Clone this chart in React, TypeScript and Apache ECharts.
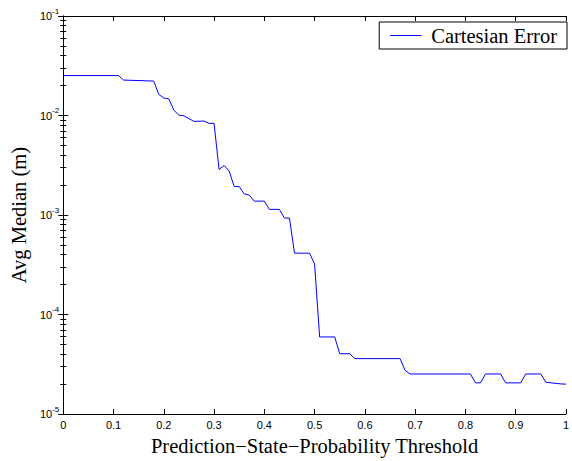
import React, { useEffect, useRef } from "react";
import * as echarts from "echarts";

const seriesName = "Cartesian Error";
const xTitle = "Prediction\u2212State\u2212Probability Threshold";
const yTitle = "Avg Median (m)";

const thresholds = [
  0, 0.11, 0.12, 0.18, 0.19, 0.2, 0.21, 0.22, 0.23, 0.24, 0.26, 0.28, 0.29, 0.3,
  0.31, 0.32, 0.33, 0.34, 0.35, 0.36, 0.37, 0.38, 0.4, 0.41, 0.43, 0.44, 0.45,
  0.46, 0.49, 0.5, 0.51, 0.54, 0.55, 0.57, 0.58, 0.67, 0.68, 0.69, 0.81, 0.82,
  0.83, 0.84, 0.87, 0.88, 0.91, 0.92, 0.95, 0.96, 0.99, 1.0,
];
const avgMedian = [
  0.0252, 0.0252, 0.0227, 0.0222, 0.0163, 0.015, 0.0147, 0.0113, 0.0101, 0.00993,
  0.00873, 0.0088, 0.00834, 0.00834, 0.00287, 0.00315, 0.00277, 0.00194, 0.00193,
  0.00163, 0.00159, 0.00138, 0.00138, 0.00114, 0.00114, 0.000933, 0.000933,
  0.000414, 0.000414, 0.000322, 0.0000596, 0.0000596, 0.0000404, 0.0000404,
  0.0000361, 0.0000361, 0.0000275, 0.0000253, 0.0000253, 0.0000206, 0.0000206,
  0.0000253, 0.0000253, 0.0000206, 0.0000206, 0.0000253, 0.0000253, 0.0000209,
  0.0000201, 0.00002,
];
const yMin = 1e-5;
const yMax = 1e-1;

const SANS = "Liberation Sans";
const SERIF = "Liberation Serif";

export default function App() {
  const ref = useRef<HTMLDivElement>(null);
  useEffect(() => {
    if (!ref.current) return;
    const chart = echarts.init(ref.current, null, { renderer: "svg" });
    const tickStyle = { color: "#000", width: 1 };
    const yLabelFormatter = (v: number) => {
      const e = Math.round(Math.log10(v));
      return `{b|10}{e|${e}}`;
    };
    chart.setOption({
      animation: false,
      backgroundColor: "#fff",
      grid: { left: 61, top: 16, width: 512, height: 404, containLabel: false },
      legend: {
        right: 5,
        top: 22,
        padding: [3, 10, 3, 11],
        itemWidth: 31,
        itemHeight: 1,
        icon: "rect",
        borderColor: "#000",
        borderWidth: 1,
        backgroundColor: "#fff",
        borderRadius: 0,
        textStyle: { fontFamily: SERIF, fontSize: 20.5, color: "#000", padding: [0, 0, 0, 5] },
        data: [{ name: seriesName }],
      },
      xAxis: [
        {
          type: "value",
          min: 0,
          max: 1,
          interval: 0.1,
          position: "bottom",
          axisLine: { lineStyle: tickStyle },
          axisTick: { inside: true, length: 5, lineStyle: tickStyle },
          axisLabel: { color: "#000", fontFamily: SANS, fontSize: 11, margin: 5 },
          splitLine: { show: false },
          name: xTitle,
          nameLocation: "middle",
          nameGap: 17,
          nameTextStyle: { fontFamily: SERIF, fontSize: 20.5, color: "#000" },
        },
        {
          type: "value",
          min: 0,
          max: 1,
          interval: 0.1,
          position: "top",
          axisLine: { lineStyle: tickStyle },
          axisTick: { inside: true, length: 5, lineStyle: tickStyle },
          axisLabel: { show: false },
          splitLine: { show: false },
        },
      ],
      yAxis: [
        {
          type: "log",
          logBase: 10,
          min: yMin,
          max: yMax,
          position: "left",
          axisLine: { lineStyle: tickStyle },
          axisTick: { inside: true, length: 5, lineStyle: tickStyle },
          minorTick: { show: true, splitNumber: 9, length: 3, lineStyle: tickStyle },
          axisLabel: {
            color: "#000",
            fontFamily: SANS,
            margin: 4,
            formatter: yLabelFormatter,
            rich: {
              b: { fontFamily: SANS, fontSize: 11, color: "#000", lineHeight: 18 },
              e: { fontFamily: SANS, fontSize: 8, color: "#000", lineHeight: 8, verticalAlign: "top" },
            },
          },
          splitLine: { show: false },
          minorSplitLine: { show: false },
          name: yTitle,
          nameLocation: "middle",
          nameGap: 29,
          nameTextStyle: { fontFamily: SERIF, fontSize: 20.5, color: "#000" },
        },
        {
          type: "log",
          logBase: 10,
          min: yMin,
          max: yMax,
          position: "right",
          axisLine: { lineStyle: tickStyle },
          axisTick: { inside: true, length: 5, lineStyle: tickStyle },
          minorTick: { show: true, splitNumber: 9, length: 3, lineStyle: tickStyle },
          axisLabel: { show: false },
          splitLine: { show: false },
          minorSplitLine: { show: false },
        },
      ],
      series: [
        {
          name: seriesName,
          type: "line",
          xAxisIndex: 0,
          yAxisIndex: 0,
          symbol: "none",
          color: "#0000ff",
          lineStyle: { color: "#0000ff", width: 1 },
          data: thresholds.map((x, i) => [x, avgMedian[i]]),
        },
      ],
    });
    return () => chart.dispose();
  }, []);
  return (
    <div
      ref={ref}
      style={{ width: 572, height: 461, position: "absolute", left: 0, top: 0 }}
    />
  );
}
